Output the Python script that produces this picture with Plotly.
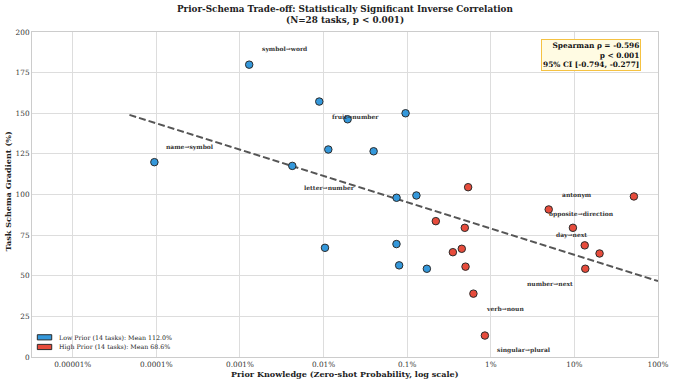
import math
import plotly.graph_objects as go

# DATA (prior in percent, gradient in percent)

low_prior_pct = [0.00129, 0.00889, 0.0000948, 0.00423, 0.0114, 0.0194, 0.0957,
                 0.0397, 0.0747, 0.129, 0.0104, 0.0745, 0.0802, 0.172]
low_gradient = [179.9, 157.2, 119.9, 117.6, 127.7, 146.3, 150.0,
                126.6, 98.0, 99.4, 67.2, 69.5, 56.4, 54.3]

high_prior_pct = [0.536, 51.5, 4.93, 0.22, 0.489, 9.6, 0.352,
                  0.45, 13.3, 20.0, 0.499, 13.5, 0.62, 0.85]
high_gradient = [104.5, 98.8, 90.8, 83.6, 79.5, 79.5, 64.5,
                 66.6, 68.7, 63.7, 55.6, 54.3, 39.0, 13.2]

trend_x = [0.0000477, 100.0]
trend_y = [149.0, 46.7]

label_text = ["symbol→word", "name→symbol", "fruit→number", "letter→number",
              "antonym", "opposite→direction", "day→next", "number→next",
              "verb→noun", "singular→plural"]
label_x = [0.00346, 0.000254, 0.0240, 0.0119, 10.6, 12.1, 9.2, 5.07, 1.47, 2.5]
label_y = [189.5, 129.1, 148.2, 104.3, 99.6, 87.7, 75.0, 45.5, 30.1, 4.3]

legend_names = ["Low Prior (14 tasks): Mean 112.0%", "High Prior (14 tasks): Mean 68.6%"]

x_ticks = [1e-5, 1e-4, 1e-3, 1e-2, 1e-1, 1, 10, 100]
x_tick_text = ["0.00001%", "0.0001%", "0.001%", "0.01%", "0.1%", "1%", "10%", "100%"]
y_ticks = [0, 25, 50, 75, 100, 125, 150, 175, 200]

BLUE = "#3498db"
RED = "#e74c3c"
EDGE = "#2b2b2b"
FONT = "DejaVu Serif"

fig = go.Figure()

# trend line
fig.add_trace(go.Scatter(x=trend_x, y=trend_y, mode="lines", showlegend=False,
                         line=dict(color="#555555", width=2, dash="7px,3px")))

fig.add_trace(go.Scatter(x=low_prior_pct, y=low_gradient, mode="markers", showlegend=False,
                         marker=dict(color=BLUE, size=7.5, line=dict(color=EDGE, width=1))))
fig.add_trace(go.Scatter(x=high_prior_pct, y=high_gradient, mode="markers", showlegend=False,
                         marker=dict(color=RED, size=7.5, line=dict(color=EDGE, width=1))))

for t, x, y in zip(label_text, label_x, label_y):
    fig.add_annotation(x=math.log10(x), y=y, text=t, showarrow=False,
                       font=dict(family=FONT, size=6, color="#333333", weight="bold"))

# stats box
fig.add_annotation(xref="paper", yref="paper", x=0.9735, y=0.9775, xanchor="right", yanchor="top",
                   text="Spearman ρ = -0.596<br>p &lt; 0.001<br>95% CI [-0.794, -0.277]",
                   showarrow=False, align="right",
                   font=dict(family=FONT, size=7.4, color="#111111", weight="bold"),
                   bgcolor="#fffbe3", bordercolor="#f5c242", borderwidth=1, borderpad=1)

# title
fig.add_annotation(xref="paper", yref="paper", x=0.5, y=1.0708, xanchor="center", yanchor="middle",
                   text="Prior-Schema Trade-off: Statistically Significant Inverse Correlation",
                   showarrow=False, font=dict(family=FONT, size=8.8, color="#222222", weight="bold"))
fig.add_annotation(xref="paper", yref="paper", x=0.5, y=1.0369, xanchor="center", yanchor="middle",
                   text="(N=28 tasks, p &lt; 0.001)",
                   showarrow=False, font=dict(family=FONT, size=8.8, color="#222222", weight="bold"))

# axis titles
fig.add_annotation(xref="paper", yref="paper", x=0.5, y=-0.0523, xanchor="center", yanchor="middle",
                   text="Prior Knowledge (Zero-shot Probability, log scale)", showarrow=False,
                   font=dict(family=FONT, size=8.1, color="#222222", weight="bold"))
fig.add_annotation(xref="paper", yref="paper", x=-0.0383, y=0.51, xanchor="center", yanchor="middle",
                   text="Task Schema Gradient (%)", showarrow=False, textangle=-90,
                   font=dict(family=FONT, size=8.1, color="#222222", weight="bold"))

# legend (patches + text)
for i, (name, col) in enumerate(zip(legend_names, [BLUE, RED])):
    yc = 0.0606 - i * 0.0298
    fig.add_shape(type="rect", xref="paper", yref="paper", x0=0.0085, x1=0.0315,
                  y0=yc - 0.008, y1=yc + 0.008, fillcolor=col, line=dict(color=EDGE, width=1))
    fig.add_annotation(xref="paper", yref="paper", x=0.0395, y=yc, xanchor="left", yanchor="middle",
                       text=name, showarrow=False,
                       font=dict(family=FONT, size=6.3, color="#222222"))

fig.update_layout(
    width=674, height=382,
    margin=dict(l=32, r=16, t=32, b=25),
    paper_bgcolor="white", plot_bgcolor="white",
    font=dict(family=FONT, color="#333333"),
    showlegend=False,
    hovermode=False,
)

fig.update_xaxes(type="log", range=[-5.487, 2.0], tickvals=x_ticks, ticktext=x_tick_text,
                 showgrid=True, gridcolor="#dddddd", gridwidth=1, automargin=False,
                 showline=True, linecolor="#cccccc", linewidth=1, mirror=True,
                 zeroline=False, tickfont=dict(family=FONT, size=7.3, color="#333333"))
fig.update_yaxes(range=[0, 200], tickvals=y_ticks, automargin=False,
                 showgrid=True, gridcolor="#dddddd", gridwidth=1,
                 showline=True, linecolor="#cccccc", linewidth=1, mirror=True,
                 zeroline=False, tickfont=dict(family=FONT, size=7.3, color="#333333"))

# drop the default page margin so the figure sits at the window's corner
fig.write_html("out.html", config={"displayModeBar": False},
               post_script="document.body.style.margin='0';")
